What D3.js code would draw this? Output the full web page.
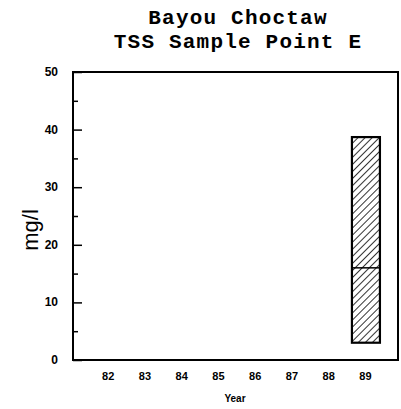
<!DOCTYPE html>
<html><head><meta charset="utf-8">
<script src="https://cdn.jsdelivr.net/npm/d3@7"></script>
<style>body{margin:0;background:#fff}svg{display:block}</style>
</head><body>
<svg id="c" width="401" height="409"></svg>
<script>
const titleLines = ["Bayou Choctaw", "TSS Sample Point E"];
const years = [82, 83, 84, 85, 86, 87, 88, 89];
const boxes = [{year: 89, low: 3.0, median: 16.0, high: 38.7}];
const yTicks = [0, 10, 20, 30, 40, 50];
const yMinor = [5, 15, 25, 35, 45];

const svg = d3.select("#c");
const L = 73, R = 398, T = 72, B = 360;
const x = d3.scaleLinear().domain([81, 89.9]).range([L - 2, R]);
const y = d3.scaleLinear().domain([0, 50]).range([B, T]);

const defs = svg.append("defs");
const pat = defs.append("pattern").attr("id", "hatch").attr("patternUnits", "userSpaceOnUse")
  .attr("width", 5).attr("height", 5).attr("patternTransform", "rotate(45)");
pat.append("line").attr("x1", 0).attr("y1", 0).attr("x2", 0).attr("y2", 5)
  .attr("stroke", "#000").attr("stroke-width", 1.6);

// title
svg.append("g").selectAll("text").data(titleLines).join("text")
  .attr("x", 238).attr("y", (d, i) => 24 + i * 24)
  .attr("text-anchor", "middle")
  .attr("font-family", "Liberation Mono, Courier New, monospace")
  .attr("font-weight", "bold").attr("font-size", 21)
  .attr("letter-spacing", 1.2)
  .text(d => d);

// frame
svg.append("rect").attr("x", L).attr("y", T).attr("width", R - L).attr("height", B - T)
  .attr("fill", "none").attr("stroke", "#000").attr("stroke-width", 2);

// y axis ticks (inward)
const yAxis = d3.axisRight(y).tickValues(yTicks).tickSize(9).tickFormat("");
const gy = svg.append("g").attr("transform", `translate(${L},0)`).call(yAxis);
gy.select(".domain").remove();
gy.selectAll("line").attr("stroke-width", 1.5);
const yAxisMinor = d3.axisRight(y).tickValues(yMinor).tickSize(5).tickFormat("");
const gym = svg.append("g").attr("transform", `translate(${L},0)`).call(yAxisMinor);
gym.select(".domain").remove();
gym.selectAll("line").attr("stroke-width", 1.5);

// y labels
svg.append("g").selectAll("text").data(yTicks).join("text")
  .attr("x", 58).attr("y", d => y(d) + 4)
  .attr("text-anchor", "end")
  .attr("font-family", "Liberation Sans, Arial, sans-serif")
  .attr("font-weight", "bold").attr("font-size", 12)
  .text(d => d);

// x labels
const xAxis = d3.axisBottom(x).tickValues(years).tickSize(0).tickPadding(0);
const gx = svg.append("g").attr("transform", `translate(0,${B})`).call(xAxis);
gx.select(".domain").remove();
gx.selectAll("text").attr("dy", 0).attr("y", 20)
  .attr("font-family", "Liberation Sans, Arial, sans-serif")
  .attr("font-weight", "bold").attr("font-size", 11).attr("fill", "#000");

// axis titles
svg.append("text").attr("transform", `translate(38,230) rotate(-90)`)
  .attr("text-anchor", "middle")
  .attr("font-family", "Liberation Sans, Arial, sans-serif")
  .attr("font-size", 22).text("mg/l");
svg.append("text").attr("x", 235).attr("y", 402)
  .attr("text-anchor", "middle")
  .attr("font-family", "Liberation Sans, Arial, sans-serif")
  .attr("font-weight", "bold").attr("font-size", 10).text("Year");

// boxes
const bw = 28;
const gb = svg.append("g").selectAll("g").data(boxes).join("g");
gb.append("rect").attr("x", d => x(d.year) - bw / 2 + 1).attr("y", d => y(d.high))
  .attr("width", bw).attr("height", d => y(d.low) - y(d.high))
  .attr("fill", "url(#hatch)").attr("stroke", "#000").attr("stroke-width", 2.2);
gb.append("line").attr("x1", d => x(d.year) - bw / 2 + 1).attr("x2", d => x(d.year) + bw / 2 + 1)
  .attr("y1", d => y(d.median)).attr("y2", d => y(d.median))
  .attr("stroke", "#000").attr("stroke-width", 1.5);
</script>
</body></html>
